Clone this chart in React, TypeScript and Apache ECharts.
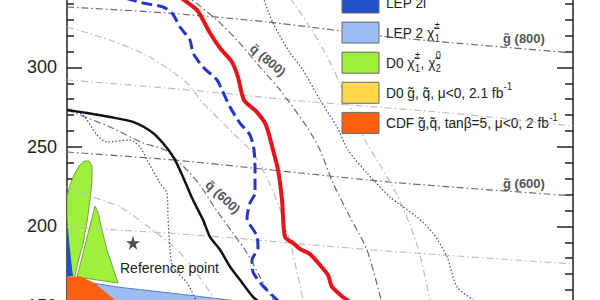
import React, { useEffect, useRef } from 'react';
import * as echarts from 'echarts';

const FONT = '"Liberation Sans", Arial, Helvetica, sans-serif';

// ---- axis ----
const yTicks = { min: 150, max: 350, interval: 50 };
const xRange = { min: 0, max: 500 };

// ---- exclusion limits (m0, m1/2) ----
const d0Observed = [[102, 348.4], [115.6, 342.4], [128.5, 336.1], [134.4, 329.8], [141.3, 321.6], [151.2, 312.2], [163.0, 303.4], [168.9, 294.0], [174.9, 279.5], [187.7, 271.9], [196.6, 263.8], [203.6, 248.0], [208.5, 235.5], [212.5, 216.6], [215.4, 193.3], [223.3, 189.6], [230.2, 185.8], [240.1, 182.6], [250.0, 175.7], [257.9, 169.4], [261.9, 161.9], [272.7, 155.6], [279.6, 152.4], [290, 146]];
const d0Expected = [[43, 346], [57.3, 343.6], [75.1, 340.5], [94.9, 338.0], [103.8, 334.2], [111.7, 325.4], [121.5, 317.2], [124.5, 309.1], [134.4, 300.3], [148.2, 292.1], [153.2, 285.8], [161.1, 275.1], [170.9, 265.0], [180.8, 257.5], [184.8, 248.0], [185.8, 235.5], [185.8, 221.0], [180.8, 214.7], [177.9, 205.3], [187.7, 194.0], [188.7, 186.4], [182.8, 178.9], [183.8, 171.3], [192.7, 163.2], [207.5, 153.8], [213.4, 150.0], [220, 146]];
const blackLimit = [[0, 273.2], [19.8, 271.3], [42.5, 268.8], [65.2, 265.7], [85.0, 258.7], [98.8, 249.3], [106.7, 241.8], [114.6, 231.1], [124.5, 216.6], [134.4, 204.1], [141.3, 193.4], [151.2, 185.3], [161.1, 174.6], [170.9, 166.4], [183.8, 155.7], [190.7, 151.9], [198, 147]];
const dottedInner = [[0, 274.5], [15.8, 270.1], [29.6, 257.5], [39.5, 253.1], [62.3, 254.3], [72.1, 249.9], [79.1, 241.8], [91.9, 227.3], [98.8, 221.0], [99.8, 205.9], [101.8, 185.2], [104.7, 174.5], [118.6, 164.5], [127.5, 153.8], [130.4, 150.7], [133, 148]];
const dottedOuter = [[193.7, 344.3], [203.6, 327.9], [220.4, 309.1], [233.2, 298.4], [250.0, 279.5], [266.8, 262.5], [277.7, 248.0], [296.4, 233.6], [319.2, 218.5], [345.8, 205.9], [361.7, 195.8], [375.5, 180.8], [385.4, 161.9], [401.2, 153.8], [408.1, 150.0], [414, 146]];

// ---- iso-mass contours ----
const gluino800 = [[0, 338.0], [98.8, 334.2], [197.6, 328.6], [329.1, 318.5], [500, 309.1]];
const gluino700 = [[0, 292.1], [131.4, 285.2], [230.2, 278.9], [378.5, 271.3], [500, 263.1]];
const gluino600 = [[0, 246.8], [104.7, 241.8], [230.2, 233.6], [329.1, 227.3], [500, 219.2]];
const gluino500 = [[0, 199.6], [82.0, 196.5], [164.0, 192.7], [230.2, 189.0], [329.1, 183.9], [500, 176.4]];
const squark900 = [[220.4, 343.6], [240.1, 325.4], [259.9, 303.4], [276.7, 279.5], [294.5, 254.3], [309.3, 238.6], [326.1, 219.8], [338.9, 200.9], [348.8, 182.0], [358.7, 153.8], [362, 146]];
const squark800 = [[105, 352], [121.5, 343.6], [148.2, 329.8], [168.0, 317.2], [190.7, 300.3], [210.5, 285.8], [237.2, 262.5], [250.0, 248.0], [262.8, 227.3], [279.6, 205.9], [296.4, 185.2], [311.3, 151.9], [314, 146]];
const squark700 = [[0, 325.4], [42.5, 317.2], [82.0, 306.5], [118.6, 290.2], [134.4, 277.6], [151.2, 266.9], [168.0, 256.2], [183.8, 246.2], [198.6, 229.2], [212.5, 207.2], [222.3, 185.2], [233.2, 153.8], [235, 146]];
const squark600 = [[0, 273.2], [42.5, 262.5], [75.1, 252.5], [96.8, 248.0], [116.6, 236.7], [131.4, 226.0], [146.2, 211.6], [164.0, 195.8], [177.9, 183.3], [190.7, 168.2], [203.6, 153.8], [208, 149]];
const squark500 = [[0, 224.8], [25.7, 218.5], [52.4, 212.2], [82.0, 199.0], [108.7, 185.2], [124.5, 173.8], [136.4, 163.1], [146.2, 153.8], [150, 149]];

// ---- excluded regions ----
const lepSleptonRegion = [[0, 205.3], [2.0, 191.4], [4.0, 178.9], [5.9, 168.8], [0, 168.8]];
const d0ChargNeutRegionA = [[0, 218.5], [3.0, 226.0], [6.9, 232.3], [11.9, 238.0], [16.8, 241.1], [21.7, 241.1], [24.7, 238.0], [24.7, 229.2], [22.7, 216.6], [19.8, 202.8], [15.8, 189.0], [10.9, 177.6], [7.9, 168.8], [0, 168.8]];
const d0ChargNeutRegionB = [[27.7, 212.8], [30.6, 209.1], [34.6, 197.7], [39.5, 185.2], [45.5, 173.8], [50.4, 164.4], [9.9, 168.2]];
const lepCharginoRegion = [[0, 168.7], [25.7, 164.3], [50.4, 161.8], [111.7, 157.4], [161.1, 153.6], [215.4, 149.8], [230.2, 144.8], [0, 144.8]];
const cdfRegion = [[0, 168.0], [12.8, 168.7], [27.7, 164.3], [40.5, 157.4], [52.4, 151.1], [58.3, 144.8], [0, 144.8]];

const referencePoint = [[65.2, 189.7]];

// ---- legend ----
type Part = [string, string] | [string, string, string];
const legendItems: { color: string; parts: Part[] }[] = [
  { color: '#2150c9', parts: [['n', 'LEP 2l'], ['sup', '±']] },
  { color: '#9cbcf4', parts: [['n', 'LEP 2 χ̃'], ['subsup', '1', '±']] },
  { color: '#9ef03c', parts: [['n', 'D0 χ̃'], ['subsup', '1', '±'], ['n', ', χ̃'], ['subsup', '2', '0']] },
  { color: '#ffd84a', parts: [['n', 'D0 g̃, q̃, μ<0, 2.1 fb'], ['sup', '-1']] },
  { color: '#ff600c', parts: [['n', 'CDF g̃,q̃, tanβ=5, μ<0, 2 fb'], ['sup', '-1']] },
];

const DARK = '#6a6a6a';
const LIGHT = '#bdbdbd';
const DASHDOT = [7, 3, 1.5, 3];

function buildLegend() {
  const ctx = document.createElement('canvas').getContext('2d')!;
  const w = (t: string, s: number) => {
    ctx.font = `${s}px ${FONT}`;
    return ctx.measureText(t).width;
  };
  const els: any[] = [];
  legendItems.forEach((item, i) => {
    const cy = 2.5 + i * 30.1;
    els.push({
      type: 'rect',
      shape: { x: 342, y: cy - 10.5, width: 37, height: 21 },
      style: { fill: item.color, stroke: '#6b6b6b', lineWidth: 1 },
      z: 100,
    });
    const kids: any[] = [];
    let x = 0;
    item.parts.forEach((p) => {
      if (p[0] === 'n') {
        kids.push({ type: 'text', style: { x, y: 0, text: p[1], font: `15px ${FONT}`, fill: '#222', verticalAlign: 'middle' } });
        x += w(p[1], 15);
      } else if (p[0] === 'sup') {
        kids.push({ type: 'text', style: { x: x + 0.5, y: -6, text: p[1], font: `10px ${FONT}`, fill: '#222', verticalAlign: 'middle' } });
        x += w(p[1], 10) + 1;
      } else {
        kids.push({ type: 'text', style: { x: x + 0.5, y: 6, text: p[1], font: `10px ${FONT}`, fill: '#222', verticalAlign: 'middle' } });
        kids.push({ type: 'text', style: { x: x + 0.5, y: -7, text: p[2] as string, font: `10px ${FONT}`, fill: '#222', verticalAlign: 'middle' } });
        x += Math.max(w(p[1], 10), w(p[2] as string, 10)) + 1;
      }
    });
    els.push({ type: 'group', x: 386, y: cy, scaleX: 0.915, children: kids, z: 100 });
  });
  return els;
}

function region(data: number[][], fill: string, z: number, stroke?: string) {
  return {
    type: 'custom',
    coordinateSystem: 'cartesian2d',
    data: [[data[0][0], data[0][1]]],
    clip: true,
    silent: true,
    z,
    renderItem: (_p: any, api: any) => ({
      type: 'polygon',
      shape: { points: data.map((d) => api.coord(d)) },
      style: { fill, stroke: stroke || 'none', lineWidth: 1 },
    }),
  };
}

function curve(data: number[][], color: string, width: number, type: any, z: number, smooth = 0.25) {
  return {
    type: 'line',
    data,
    showSymbol: false,
    symbol: 'none',
    smooth,
    silent: true,
    clip: true,
    z,
    lineStyle: { color, width, type },
  };
}

function yAxisCfg(position: 'left' | 'right', major: number, minor: number, labels: boolean) {
  return {
    type: 'value',
    position,
    min: yTicks.min,
    max: yTicks.max,
    interval: yTicks.interval,
    axisLine: { show: true, onZero: false, lineStyle: { color: '#222', width: 1.5 } },
    axisTick: { show: true, inside: true, length: major, lineStyle: { color: '#222', width: 1.5 } },
    minorTick: { show: true, splitNumber: 5, length: minor, lineStyle: { color: '#222', width: 1.5 } },
    axisLabel: { show: labels, fontSize: 18, color: '#222', margin: 10, fontFamily: FONT },
    splitLine: { show: false },
    minorSplitLine: { show: false },
  };
}

export default function App() {
  const ref = useRef<HTMLDivElement>(null);
  useEffect(() => {
    if (!ref.current) return;
    const chart = echarts.init(ref.current, undefined, { renderer: 'svg' });
    const labelFont = `bold 13px ${FONT}`;
    chart.setOption({
      animation: false,
      backgroundColor: '#ffffff',
      grid: { left: 67, right: 27, top: -12.1, bottom: -5.9, containLabel: false, outerBoundsMode: 'none' },
      xAxis: { type: 'value', min: xRange.min, max: xRange.max, show: false },
      yAxis: [yAxisCfg('left', 15, 7, true), yAxisCfg('right', 16, 8, false)],
      series: [
        region(lepCharginoRegion, '#9cbcf4', 1, '#5a78c8'),
        region(d0ChargNeutRegionA, '#9ef03c', 2, '#7aa040'),
        region(d0ChargNeutRegionB, '#9ef03c', 2, '#7aa040'),
        region(lepSleptonRegion, '#2150c9', 3),
        region(cdfRegion, '#ff600c', 4),
        curve(gluino800, DARK, 1.2, DASHDOT, 5),
        curve(gluino700, LIGHT, 1.2, DASHDOT, 5),
        curve(gluino600, DARK, 1.2, DASHDOT, 5),
        curve(gluino500, LIGHT, 1.2, DASHDOT, 5),
        curve(squark900, LIGHT, 1.2, DASHDOT, 5),
        curve(squark800, DARK, 1.2, DASHDOT, 5),
        curve(squark700, LIGHT, 1.2, DASHDOT, 5),
        curve(squark600, DARK, 1.2, DASHDOT, 5),
        curve(squark500, LIGHT, 1.2, DASHDOT, 5),
        curve(dottedInner, '#3a46b0', 1.2, [1.5, 2], 6),
        curve(dottedOuter, '#3a46b0', 1.2, [1.5, 2], 6),
        curve(blackLimit, '#111111', 2.5, 'solid', 7),
        curve(d0Expected, '#2535c5', 3, [11, 5], 7),
        curve(d0Observed, '#e8141b', 4, 'solid', 8),
        {
          type: 'scatter',
          data: referencePoint,
          symbol: 'path://M50,0 L61,35 L98,35 L68,57 L79,91 L50,70 L21,91 L32,57 L2,35 L39,35 Z',
          symbolSize: 14,
          itemStyle: { color: '#222' },
          silent: true,
          z: 9,
        },
      ],
      graphic: [
        { type: 'text', x: 120, y: 268, style: { text: 'Reference point', font: `14px ${FONT}`, fill: '#222', verticalAlign: 'middle' }, z: 50 },
        { type: 'text', x: 268, y: 60, rotation: -0.7, style: { text: 'q̃ (800)', font: labelFont, fill: '#555', align: 'center', verticalAlign: 'middle' }, z: 50 },
        { type: 'text', x: 223, y: 197, rotation: -0.75, style: { text: 'q̃ (600)', font: labelFont, fill: '#555', align: 'center', verticalAlign: 'middle' }, z: 50 },
        { type: 'text', x: 503, y: 38, style: { text: 'g̃ (800)', font: labelFont, fill: '#555', verticalAlign: 'middle' }, z: 50 },
        { type: 'text', x: 503, y: 183, style: { text: 'g̃ (600)', font: labelFont, fill: '#555', verticalAlign: 'middle' }, z: 50 },
        ...buildLegend(),
      ],
    });
    return () => chart.dispose();
  }, []);
  return <div ref={ref} style={{ width: 600, height: 300, position: 'absolute', left: 0, top: 0 }} />;
}
